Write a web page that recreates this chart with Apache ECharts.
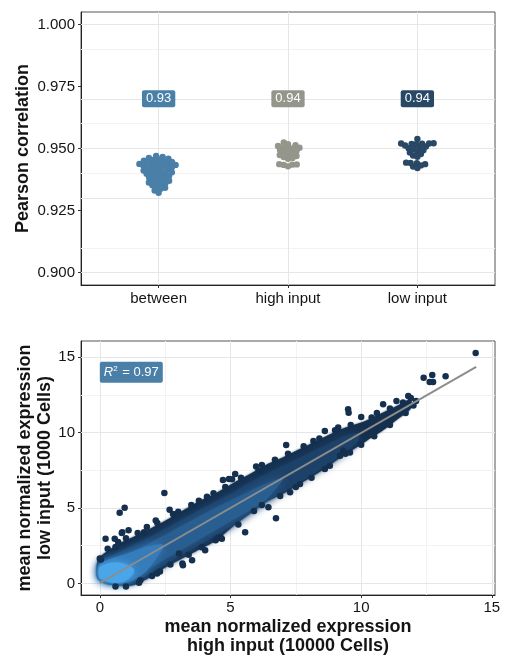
<!DOCTYPE html>
<html>
<head>
<meta charset="utf-8">
<script src="https://cdn.jsdelivr.net/npm/echarts@6/dist/echarts.min.js"></script>
<style>
  html, body { margin: 0; padding: 0; background: #ffffff; }
  #chart { width: 508px; height: 664px; }
</style>
</head>
<body>
<div id="chart"></div>
<script>
// ---- Panel A: per-sample Pearson correlations ----
const groups = ['between', 'high input', 'low input'];
const corrBetween = [
  0.9470, 0.9466, 0.9462, 0.9459, 0.9456, 0.9454, 0.9451, 0.9448, 0.9446,
  0.9444, 0.9442, 0.9440, 0.9438, 0.9436, 0.9434, 0.9432, 0.9430, 0.9428, 0.9426,
  0.9424, 0.9421, 0.9418, 0.9416, 0.9414, 0.9411, 0.9408, 0.9406,
  0.9404, 0.9401, 0.9398, 0.9396, 0.9393, 0.9390, 0.9387, 0.9383, 0.9380, 0.9377,
  0.9373, 0.9370, 0.9367, 0.9363, 0.9360, 0.9357, 0.9352, 0.9348, 0.9342, 0.9338,
  0.9331, 0.9322
];
const corrHigh = [
  0.9524, 0.9517, 0.9513, 0.9510, 0.9506, 0.9503, 0.9500, 0.9497, 0.9494, 0.9490,
  0.9486, 0.9482, 0.9478, 0.9474, 0.9470, 0.9466, 0.9462, 0.9459,
  0.9437, 0.9436, 0.9435, 0.9434, 0.9428
];
const corrLow = [
  0.9538, 0.9521, 0.9520, 0.9520, 0.9519, 0.9518, 0.9517,
  0.9512, 0.9508, 0.9505, 0.9501, 0.9497, 0.9493, 0.9489, 0.9484, 0.9478, 0.9472, 0.9467,
  0.9443, 0.9442, 0.9441, 0.9437, 0.9432, 0.9427, 0.9421
];
const summaryLabels = ['0.93', '0.94', '0.94'];
const summaryLevel = 0.97;
const corrTicks = [0.900, 0.925, 0.950, 0.975, 1.000];
const corrMinor = [0.9125, 0.9375, 0.9625, 0.9875];

// ---- Panel B: mean normalized expression, high vs low input ----
// dense cloud outline (x, upper y, lower y) and density layers inside it
const cloudX     = [-0.12, -0.05, 0.3, 0.8, 1.3, 1.9, 2.5, 3.2, 3.8, 4.4, 5.1, 5.8, 6.4, 7.0, 7.4, 8.0, 8.6, 9.2, 9.8, 10.2, 10.8, 11.4, 11.9];
const cloudUpper = [1.2, 1.65, 2.15, 2.7, 3.1, 3.6, 4.15, 4.85, 5.45, 5.95, 6.65, 7.3, 7.9, 8.35, 8.7, 9.2, 9.7, 10.2, 10.55, 10.8, 11.3, 11.8, 12.2];
const cloudLower = [0.5, 0.25, -0.05, -0.15, -0.1, 0.4, 1.05, 1.7, 2.25, 2.8, 3.8, 4.7, 5.45, 5.95, 6.35, 6.95, 7.6, 8.35, 9.0, 9.45, 10.1, 10.9, 11.6];

const midX     = [-0.02, 0.5, 1.0, 1.6, 2.2, 2.8, 3.4, 4.0, 4.6, 5.2, 5.8, 6.4, 7.0, 7.6, 8.2, 8.8, 9.4, 9.9];
const midUpper = [1.3, 1.85, 2.35, 2.85, 3.35, 3.9, 4.5, 5.05, 5.6, 6.15, 6.75, 7.3, 7.8, 8.3, 8.8, 9.3, 9.8, 9.95];
const midLower = [0.4, 0.1, 0.05, 0.35, 0.95, 1.55, 2.15, 2.75, 3.35, 3.95, 4.75, 5.45, 6.05, 6.65, 7.3, 7.95, 8.7, 9.5];

const coreX     = [0.1, 0.8, 1.5, 2.2, 2.9, 3.6, 4.3, 5.0, 5.7, 6.4, 7.0];
const coreUpper = [1.1, 1.7, 2.3, 2.95, 3.6, 4.25, 4.9, 5.5, 6.1, 6.65, 7.0];
const coreLower = [0.25, 0.25, 0.7, 1.3, 2.0, 2.7, 3.4, 4.1, 4.8, 5.6, 6.85];

const warmX     = [-0.05, 0.3, 0.8, 1.3, 1.8, 2.4];
const warmUpper = [1.2, 1.55, 1.85, 2.15, 2.45, 2.6];
const warmLower = [0.3, 0.05, 0.0, 0.25, 0.85, 2.3];

const hotX     = [-0.02, 0.25, 0.55, 0.85, 1.1, 1.3];
const hotUpper = [1.05, 1.3, 1.4, 1.35, 1.2, 0.95];
const hotLower = [0.4, 0.15, 0.05, 0.1, 0.3, 0.7];

// genes on the ragged edge of the cloud and isolated genes outside it
const geneX = [14.38, 12.39, 12.72, 12.62, 12.75, 13.23, 11.80, 11.35, 10.84, 9.50, 9.52, 10.00, 9.12, 8.61, 8.17, 7.13,
               5.98, 6.07, 5.18, 4.71, 5.06, 4.35, 2.47, 0.95, 0.76, 6.74, 7.66, 7.28, 5.56, 4.67, 4.03, 3.53, 3.18,
               0.00, 0.22, 0.86, 0.60, 9.57, 9.19, 10.08, 2.19, 1.55, 0.04, 0.57, 0.84, 1.10, 3.16, 4.43, 4.62,
               4.94, 1.69, 2.14, 2.67, 3.79, 3.03, 8.61, 9.31, 6.45,
               0.30, 0.70, 1.00, 1.45, 1.80, 2.20, 2.80, 3.00, 3.50, 4.10, 4.80, 5.40, 6.20, 6.70, 7.20, 7.80,
               8.40, 9.00, 9.60, 10.40, 10.60, 11.10, 11.60, 11.90, 12.10,
               0.60, 1.00, 1.50, 2.00, 2.30, 2.70, 3.40, 3.90, 4.50, 5.30, 5.90, 6.20, 6.90, 7.50, 8.10, 8.80,
               9.40, 10.00, 10.50, 11.10, 11.70, 12.00];
const geneY = [15.28, 13.63, 13.81, 13.35, 13.35, 13.74, 12.42, 12.09, 11.87, 11.54, 11.32, 11.03, 10.33, 10.11, 9.45, 9.17,
               7.76, 7.47, 7.26, 6.86, 6.90, 5.98, 6.00, 5.01, 4.68, 4.33, 6.60, 6.04, 3.40, 2.97, 2.20, 1.54, 1.21,
               1.65, 2.97, 3.40, 2.41, 8.68, 8.46, 9.89, 0.66, 0.22, 1.58, 2.97, 3.34, 3.52, 1.32, 2.86, 3.07,
               6.93, 3.40, 4.18, 4.88, 5.49, 1.98, 7.58, 8.79, 5.05,
               2.30, 2.75, 3.00, 3.35, 3.75, 4.00, 4.60, 4.75, 5.20, 5.75, 6.40, 7.00, 7.85, 8.20, 8.60, 9.10,
               9.60, 10.15, 10.50, 11.00, 11.30, 11.60, 12.00, 12.30, 12.10,
               -0.20, -0.20, 0.05, 0.50, 0.80, 1.25, 1.90, 2.40, 3.00, 3.90, 4.80, 5.20, 5.80, 6.40, 7.00, 7.80,
               8.60, 9.20, 9.75, 10.50, 11.30, 11.80];
const fitX = [0, 14.4];
const fitY = [0.03, 14.36];
const r2Text = '0.97';
const exprTicks = [0, 5, 10, 15];
const exprMinor = [2.5, 7.5, 12.5];

// ---- drawing ----
const groupColors = ['#4a7fa8', '#95968b', '#284865'];
const FONT = '"Liberation Sans", Arial, Helvetica, sans-serif';
const TEXT = '#141414';

// panel A geometry (px per data unit) for the swarm layout
const A_W = 414, A_H = 273;
const A_XMIN = 0.4, A_XMAX = 3.6, A_YMIN = 0.895, A_YMAX = 1.005;
const pxPerX = A_W / (A_XMAX - A_XMIN);
const pxPerY = A_H / (A_YMAX - A_YMIN);
const DOT = 6.4;      // drawn dot diameter
const SPACING = 4.4;  // centre spacing used by the swarm (dots overlap a little)

// beeswarm: each dot goes to the free horizontal slot nearest the centre,
// alternating sides when both are equally close
function swarmOffsets(values) {
  const order = values.map((v, i) => i).sort((a, b) => values[a] - values[b]);
  const placed = [];
  const offs = new Array(values.length).fill(0);
  const free = (x, y) => placed.every(p => (x - p.x) * (x - p.x) + (y - p.y) * (y - p.y) >= SPACING * SPACING);
  let flip = 1;
  for (const i of order) {
    const y = values[i] * pxPerY;
    let pos = 0, neg = 0;
    while (!free(pos, y)) pos += 0.25;
    while (!free(-neg, y)) neg += 0.25;
    let best;
    if (Math.abs(pos - neg) < 0.01) { best = pos === 0 ? 0 : flip * pos; flip = -flip; }
    else best = pos < neg ? pos : -neg;
    placed.push({ x: best, y: y });
    offs[i] = best;
  }
  return offs;
}

function swarmData(values, gi) {
  const offs = swarmOffsets(values);
  return values.map((v, i) => [gi + 1 + offs[i] / pxPerX, v]);
}

function gridLines(xsMajor, ysMajor, xsMinor, ysMinor, xi, yi) {
  const data = [];
  const minor = { color: '#f3f3f3', width: 1, type: 'solid' };
  const major = { color: '#e6e6e6', width: 1, type: 'solid' };
  xsMinor.forEach(v => data.push({ xAxis: v, lineStyle: minor }));
  ysMinor.forEach(v => data.push({ yAxis: v, lineStyle: minor }));
  xsMajor.forEach(v => data.push({ xAxis: v, lineStyle: major }));
  ysMajor.forEach(v => data.push({ yAxis: v, lineStyle: major }));
  return {
    type: 'line', xAxisIndex: xi, yAxisIndex: yi, data: [], z: 1, silent: true,
    markLine: {
      silent: true, z: 1, symbol: ['none', 'none'], label: { show: false }, animation: false,
      lineStyle: { type: 'solid' }, emphasis: { disabled: true }, data: data
    }
  };
}

function bandSeries(xs, up, lo, color, blur, z) {
  return {
    type: 'custom', xAxisIndex: 1, yAxisIndex: 1, silent: true, z: z, clip: true,
    data: [[xs[0], up[0]]], encode: { x: 0, y: 1 },
    renderItem: function (params, api) {
      const pts = [];
      for (let i = 0; i < xs.length; i++) pts.push(api.coord([xs[i], up[i]]));
      for (let i = xs.length - 1; i >= 0; i--) pts.push(api.coord([xs[i], lo[i]]));
      return {
        type: 'polygon',
        shape: { points: pts, smooth: 0.25 },
        style: { fill: color, shadowBlur: blur, shadowColor: color }
      };
    }
  };
}

const axisCommon = {
  axisLine: { show: true, onZero: false, lineStyle: { color: '#222', width: 1 } },
  axisTick: { show: true, length: 3, lineStyle: { color: '#333' } },
  splitLine: { show: false },
  axisLabel: { color: TEXT, fontSize: 15, fontFamily: FONT },
  nameMoveOverlap: false,
  nameTextStyle: { color: TEXT, fontSize: 18, fontWeight: 'bold', fontFamily: FONT }
};

const chart = echarts.init(document.getElementById('chart'), null, { renderer: 'canvas' });

const series = [
  gridLines([1, 2, 3], corrTicks, [], corrMinor, 0, 0),
  gridLines(exprTicks, exprTicks, exprMinor, exprMinor, 1, 1)
];

[corrBetween, corrHigh, corrLow].forEach((vals, gi) => {
  series.push({
    type: 'scatter', xAxisIndex: 0, yAxisIndex: 0, z: 3,
    symbol: 'circle', symbolSize: DOT,
    itemStyle: { color: groupColors[gi], opacity: 1 },
    data: swarmData(vals, gi),
    animation: false
  });
});

series.push({
  type: 'scatter', xAxisIndex: 0, yAxisIndex: 0, z: 4, symbolSize: 0,
  itemStyle: { opacity: 1 },
  data: summaryLabels.map((t, gi) => ({
    value: [gi + 1, summaryLevel],
    label: { backgroundColor: groupColors[gi] }
  })),
  label: {
    show: true, position: 'inside',
    formatter: p => summaryLabels[p.dataIndex],
    color: '#ffffff', fontSize: 13, fontFamily: FONT,
    padding: [2, 4, 1, 4], borderRadius: 2, lineHeight: 14
  },
  animation: false
});

series.push(bandSeries(cloudX, cloudUpper, cloudLower, '#15304f', 2, 2));
series.push(bandSeries(midX, midUpper, midLower, '#1d4269', 8, 3));
series.push(bandSeries(coreX, coreUpper, coreLower, '#295e90', 10, 3));
series.push(bandSeries(warmX, warmUpper, warmLower, '#357cba', 10, 3));
series.push(bandSeries(hotX, hotUpper, hotLower, '#4aa5e9', 8, 3));

series.push({
  type: 'scatter', xAxisIndex: 1, yAxisIndex: 1, z: 4,
  symbol: 'circle', symbolSize: 6.5,
  itemStyle: { color: '#15304f', opacity: 1 },
  data: geneX.map((x, i) => [x, geneY[i]]),
  animation: false
});

series.push({
  type: 'line', xAxisIndex: 1, yAxisIndex: 1, z: 6,
  data: fitX.map((x, i) => [x, fitY[i]]),
  symbol: 'none', lineStyle: { color: '#8c8c8c', width: 2 },
  animation: false, silent: true
});

series.push({
  type: 'scatter', xAxisIndex: 1, yAxisIndex: 1, z: 7, symbolSize: 0,
  itemStyle: { opacity: 1 },
  data: [[0, 14]],
  label: {
    show: true, position: 'right', distance: 0,
    formatter: '{r|R}{s|2}{t| = ' + r2Text + '}',
    backgroundColor: '#4a7fa8', borderRadius: 2, padding: [3, 4, 3, 4],
    rich: {
      r: { color: '#fff', fontSize: 13, fontStyle: 'italic', fontFamily: FONT, lineHeight: 15 },
      s: { color: '#fff', fontSize: 8, fontFamily: FONT, verticalAlign: 'top', lineHeight: 15, padding: [0, 1, 6, 0] },
      t: { color: '#fff', fontSize: 13, fontFamily: FONT, lineHeight: 15 }
    }
  },
  animation: false
});

chart.setOption({
  animation: false,
  backgroundColor: '#ffffff',
  textStyle: { fontFamily: FONT },
  grid: [
    { left: 81, top: 12, width: 414, height: 273, show: true, borderColor: '#555', borderWidth: 1, backgroundColor: 'transparent' },
    { left: 81, top: 341, width: 414, height: 254, show: true, borderColor: '#555', borderWidth: 1, backgroundColor: 'transparent' }
  ],
  xAxis: [
    Object.assign({}, axisCommon, {
      type: 'value', gridIndex: 0, min: A_XMIN, max: A_XMAX,
      axisTick: Object.assign({}, axisCommon.axisTick, { customValues: [1, 2, 3] }),
      axisLabel: Object.assign({}, axisCommon.axisLabel, {
        customValues: [1, 2, 3], margin: 6,
        formatter: v => groups[Math.round(v) - 1]
      })
    }),
    Object.assign({}, axisCommon, {
      type: 'value', gridIndex: 1, min: -0.72, max: 15.12,
      axisTick: Object.assign({}, axisCommon.axisTick, { customValues: exprTicks }),
      axisLabel: Object.assign({}, axisCommon.axisLabel, { customValues: exprTicks, margin: 5 }),
      name: 'mean normalized expression\nhigh input (10000 Cells)',
      nameLocation: 'middle', nameGap: 23,
      nameTextStyle: Object.assign({}, axisCommon.nameTextStyle, { lineHeight: 19 })
    })
  ],
  yAxis: [
    Object.assign({}, axisCommon, {
      type: 'value', gridIndex: 0, min: A_YMIN, max: A_YMAX,
      axisTick: Object.assign({}, axisCommon.axisTick, { customValues: corrTicks }),
      axisLabel: Object.assign({}, axisCommon.axisLabel, {
        customValues: corrTicks, margin: 6, formatter: v => v.toFixed(3)
      }),
      name: 'Pearson correlation', nameLocation: 'middle', nameGap: 49, nameRotate: 90
    }),
    Object.assign({}, axisCommon, {
      type: 'value', gridIndex: 1, min: -0.765, max: 16.07,
      axisTick: Object.assign({}, axisCommon.axisTick, { customValues: exprTicks }),
      axisLabel: Object.assign({}, axisCommon.axisLabel, { customValues: exprTicks, margin: 6 }),
      name: 'mean normalized expression\nlow input (1000 Cells)',
      nameLocation: 'middle', nameGap: 26, nameRotate: 90,
      nameTextStyle: Object.assign({}, axisCommon.nameTextStyle, { lineHeight: 20 })
    })
  ],
  series: series
});
</script>
</body>
</html>
